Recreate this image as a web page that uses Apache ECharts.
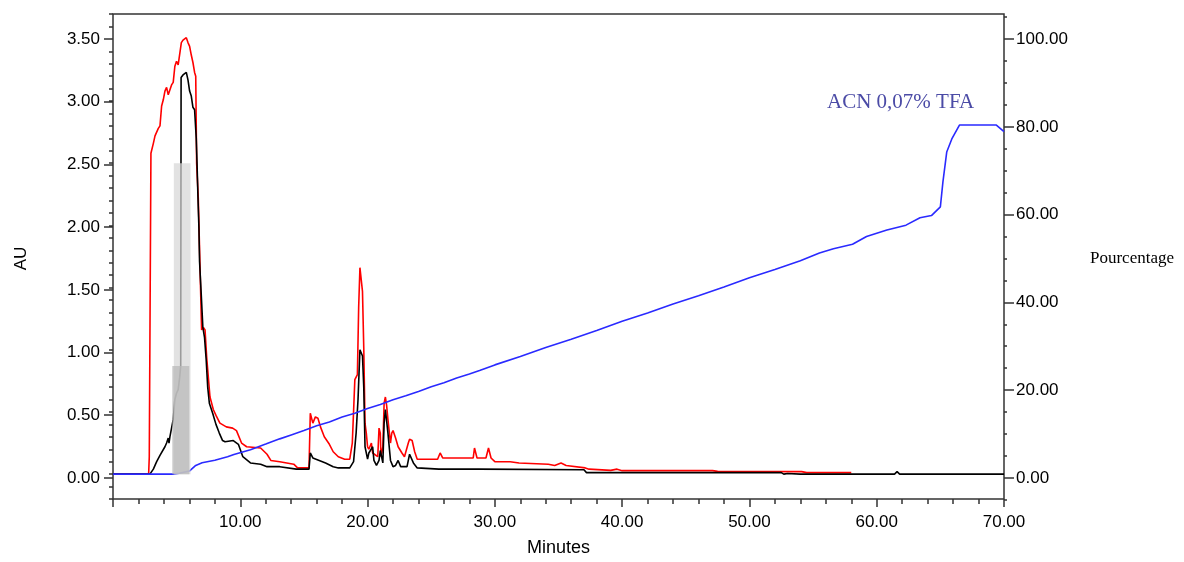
<!DOCTYPE html>
<html><head><meta charset="utf-8">
<script src="https://cdn.jsdelivr.net/npm/echarts@6/dist/echarts.min.js"></script>
<style>html,body{margin:0;padding:0;background:#fff}#c{width:1184px;height:562px}</style>
</head><body><div id="c"></div>
<script>
// Red trace (AU) : [minutes, AU]
const redTrace = [[0,0],[2.8,0],[2.85,0.14],[2.97,0.15],[2.98,2.58],[3.17,2.66],[3.3,2.72],[3.43,2.75],[3.56,2.78],[3.69,2.8],[3.82,2.96],[3.95,3.01],[4.08,3.08],[4.21,3.11],[4.34,3.05],[4.47,3.06],[4.6,3.13],[4.73,3.15],[4.86,3.28],[4.99,3.32],[5.12,3.29],[5.24,3.28],[5.37,3.47],[5.5,3.49],[5.63,3.49],[5.76,3.51],[5.89,3.47],[6.02,3.44],[6.15,3.37],[6.28,3.31],[6.41,3.23],[6.5,3.2],[6.57,2.5],[6.7,2.22],[6.83,1.69],[6.96,1.16],[7.1,1.18],[7.23,1.16],[7.36,0.94],[7.62,0.62],[7.88,0.52],[8.1,0.47],[8.4,0.41],[8.9,0.38],[9.4,0.37],[9.7,0.35],[10.1,0.25],[10.5,0.22],[11.6,0.21],[12.1,0.16],[12.4,0.11],[13.1,0.1],[14.2,0.08],[14.5,0.05],[15.4,0.05],[15.5,0.49],[15.7,0.41],[15.9,0.46],[16.1,0.45],[16.3,0.38],[16.6,0.3],[17.0,0.24],[17.3,0.18],[17.7,0.14],[18.2,0.12],[18.6,0.12],[18.8,0.25],[19.0,0.76],[19.2,0.8],[19.3,1.34],[19.4,1.66],[19.5,1.66],[19.6,1.47],[19.7,1.02],[19.8,0.41],[19.9,0.33],[20.0,0.22],[20.1,0.2],[20.3,0.25],[20.4,0.17],[20.5,0.16],[20.8,0.14],[20.9,0.37],[21.0,0.33],[21.05,0.14],[21.2,0.22],[21.3,0.57],[21.4,0.62],[21.5,0.55],[21.6,0.44],[21.8,0.25],[21.9,0.33],[22.0,0.35],[22.2,0.29],[22.4,0.22],[22.7,0.17],[22.9,0.14],[23.2,0.25],[23.3,0.28],[23.5,0.27],[23.7,0.18],[23.9,0.12],[25.5,0.12],[25.7,0.17],[25.9,0.13],[27.6,0.13],[28.3,0.13],[28.4,0.21],[28.6,0.13],[29.3,0.13],[29.5,0.21],[29.7,0.13],[30.0,0.1],[31.2,0.1],[31.9,0.09],[34.2,0.08],[34.7,0.07],[35.2,0.09],[35.6,0.07],[37.1,0.05],[37.4,0.04],[39.1,0.03],[39.6,0.04],[40.0,0.028],[42.2,0.028],[42.3,0.035],[42.5,0.028],[44.8,0.028],[44.9,0.035],[45.1,0.028],[46.8,0.028],[46.9,0.035],[47.1,0.028],[47.5,0.022],[54.1,0.02],[54.5,0.012],[58.0,0.012]];

// Black trace (AU)
const blackTrace = [[0,0],[2.9,0],[3.17,0.04],[3.43,0.1],[3.69,0.15],[3.82,0.15],[4.08,0.22],[4.21,0.25],[4.34,0.29],[4.4,0.25],[4.47,0.3],[4.6,0.3],[4.73,0.44],[4.86,0.6],[4.99,0.65],[5.12,0.68],[5.24,0.78],[5.32,0.87],[5.35,3.19],[5.5,3.21],[5.63,3.2],[5.76,3.23],[5.89,3.17],[6.02,3.08],[6.15,3.04],[6.28,2.95],[6.41,2.93],[6.54,2.7],[6.6,2.51],[6.67,2.24],[6.75,1.98],[6.8,1.71],[6.93,1.45],[7.06,1.18],[7.19,1.1],[7.32,0.92],[7.44,0.7],[7.57,0.57],[7.83,0.49],[8.09,0.4],[8.35,0.33],[8.61,0.27],[8.8,0.26],[9.45,0.27],[9.85,0.24],[10.2,0.14],[10.8,0.09],[11.6,0.08],[12.1,0.06],[13.1,0.06],[14.4,0.04],[15.4,0.04],[15.5,0.17],[15.7,0.13],[16.2,0.11],[16.7,0.09],[17.3,0.06],[17.7,0.05],[18.6,0.05],[18.9,0.1],[19.1,0.33],[19.25,0.6],[19.4,1.0],[19.6,0.95],[19.7,0.7],[19.8,0.22],[20.0,0.12],[20.1,0.17],[20.4,0.22],[20.5,0.11],[20.7,0.07],[20.9,0.11],[21.0,0.19],[21.2,0.09],[21.3,0.41],[21.4,0.52],[21.6,0.33],[21.8,0.11],[22.0,0.06],[22.2,0.07],[22.4,0.11],[22.6,0.06],[23.1,0.06],[23.2,0.11],[23.3,0.16],[23.6,0.09],[23.9,0.05],[25.6,0.04],[28.7,0.04],[37.0,0.035],[37.2,0.012],[52.5,0.012],[52.7,0.0],[53.0,0.005],[54.0,0.0],[61.4,0.0],[61.6,0.02],[61.8,0.0],[70,0.0]];

// Blue gradient (% ACN)
const acnPercent = [[0,0],[4.7,0],[5.2,0.2],[6.0,0.7],[6.5,2.0],[7.0,2.6],[8.0,3.2],[9.0,4.0],[9.5,4.5],[10.8,5.6],[12,6.9],[13.1,8.1],[14,9.0],[15,10.0],[16,11.1],[17,12.0],[18,13.1],[19,14.0],[20,15.1],[21,16.0],[22,17.1],[23,18.0],[24,19.0],[25,20.1],[26,21.0],[27,22.1],[28,23.0],[28.8,23.8],[30,25.1],[32,27.0],[34,29.1],[36,31.0],[38,33.0],[40,35.1],[42,37.0],[44,39.1],[46,41.0],[48,43.0],[50,45.1],[52,47.0],[54,49.0],[55.5,50.8],[56.6,51.8],[58.1,52.8],[59.2,54.6],[60.8,56.1],[62.3,57.2],[63.4,58.9],[64.3,59.4],[65.0,61.4],[65.2,67.1],[65.5,74],[65.9,77],[66.5,80.2],[69.4,80.2],[70,78.7]];

// Grey shaded bands: start min, end min, top AU
const shadeStart = [4.78, 4.66];
const shadeEnd = [6.09, 5.99];
const shadeTop = [2.50, 0.87];

const shadeFills = ['rgba(215,215,215,0.72)', 'rgba(185,185,185,0.75)'];
const shadeData = shadeStart.map((s, i) => [s, shadeEnd[i], shadeTop[i]]);

const SANS = 'Liberation Sans, Arial, sans-serif';
const SERIF = 'Liberation Serif, Times New Roman, serif';
const AXC = '#333';

const chart = echarts.init(document.getElementById('c'), null, {renderer: 'canvas'});
chart.setOption({
  animation: false,
  backgroundColor: '#fff',
  grid: [
    {left: 113, right: 180, top: 14, height: 489, show: true, borderColor: AXC, borderWidth: 1.5, backgroundColor: 'transparent'},
    {left: 113, right: 180, top: 39.08, height: 438.85, show: false},
    {left: 113, right: 180, top: 17.1, height: 482.7, show: false}
  ],
  xAxis: [
    {type: 'value', gridIndex: 0, min: 0, max: 70, interval: 10, position: 'bottom',
     name: 'Minutes', nameLocation: 'middle', nameGap: 40,
     nameTextStyle: {fontFamily: SANS, fontSize: 18, color: '#000'},
     axisLine: {show: false, onZero: false},
     axisTick: {show: true, length: 8, lineStyle: {color: AXC, width: 1.5}},
     minorTick: {show: true, splitNumber: 5, length: 5, lineStyle: {color: AXC, width: 1.5}},
     axisLabel: {margin: 15, fontFamily: SANS, fontSize: 17, color: '#000', formatter: v => v === 0 ? '' : v.toFixed(2)},
     splitLine: {show: false}},
    {type: 'value', gridIndex: 1, min: 0, max: 70, show: false},
    {type: 'value', gridIndex: 2, min: 0, max: 70, show: false}
  ],
  yAxis: [
    {type: 'value', gridIndex: 0, position: 'left', min: -0.2, max: 3.7, interval: 0.1,
     axisLine: {show: false, onZero: false}, axisLabel: {show: false}, splitLine: {show: false},
     axisTick: {show: true, length: 4, lineStyle: {color: AXC, width: 1.5}}},
    {type: 'value', gridIndex: 0, position: 'right', min: -0.2 / 3.5 * 100, max: 3.7 / 3.5 * 100, show: false},
    {type: 'value', gridIndex: 1, position: 'left', min: 0, max: 3.5, interval: 0.5,
     name: 'AU', nameLocation: 'middle', nameGap: 83, nameRotate: 90,
     nameTextStyle: {fontFamily: SANS, fontSize: 17, color: '#000'},
     axisLine: {show: false, onZero: false}, splitLine: {show: false},
     axisTick: {show: true, length: 9, lineStyle: {color: AXC, width: 1.5}},
     axisLabel: {margin: 13, fontFamily: SANS, fontSize: 17, color: '#000', formatter: v => v.toFixed(2)}},
    {type: 'value', gridIndex: 1, position: 'right', min: 0, max: 100, interval: 20,
     name: 'Pourcentage', nameLocation: 'middle', nameGap: 86, nameRotate: 0,
     nameTextStyle: {fontFamily: SERIF, fontSize: 17, color: '#000', align: 'left'},
     axisLine: {show: false, onZero: false}, splitLine: {show: false},
     axisTick: {show: true, length: 10, lineStyle: {color: AXC, width: 1.5}},
     axisLabel: {margin: 12, fontFamily: SANS, fontSize: 17, color: '#000', formatter: v => v.toFixed(2)}},
    {type: 'value', gridIndex: 2, position: 'right', min: -5, max: 105, interval: 5,
     axisLine: {show: false, onZero: false}, axisLabel: {show: false}, splitLine: {show: false},
     axisTick: {show: true, length: 3, lineStyle: {color: AXC, width: 1.5}}}
  ],
  graphic: [
    {type: 'text', left: 827, top: 92, style: {text: 'ACN 0,07% TFA', fontFamily: SERIF, fontSize: 21, fill: '#4b4ba6'}}
  ],
  series: [
    {type: 'line', name: 'red', xAxisIndex: 0, yAxisIndex: 0, data: redTrace, showSymbol: false, z: 2,
     lineStyle: {color: '#ff0000', width: 1.6}},
    {type: 'line', name: 'black', xAxisIndex: 0, yAxisIndex: 0, data: blackTrace, showSymbol: false, z: 3,
     lineStyle: {color: '#000000', width: 1.6}},
    {type: 'line', name: 'ACN', xAxisIndex: 0, yAxisIndex: 1, data: acnPercent, showSymbol: false, z: 4,
     lineStyle: {color: '#2a2aff', width: 1.6}},
    {type: 'custom', xAxisIndex: 0, yAxisIndex: 0, data: shadeData, z: 6,
     encode: {x: [0, 1], y: 2},
     renderItem: function (params, api) {
       const p0 = api.coord([api.value(0), api.value(2)]);
       const p1 = api.coord([api.value(1), 0]);
       return {type: 'rect', shape: {x: p0[0], y: p0[1], width: p1[0] - p0[0], height: p1[1] - p0[1]},
               style: {fill: shadeFills[params.dataIndex]}};
     }}
  ]
});
</script></body></html>
